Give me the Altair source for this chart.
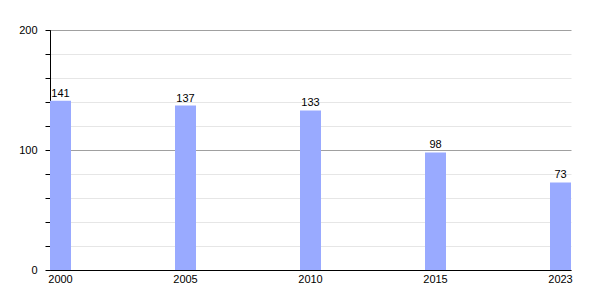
import altair as alt
import pandas as pd

years = ["2000", "2005", "2010", "2015", "2023"]
values = [141, 137, 133, 98, 73]
minor_ticks = [20, 40, 60, 80, 120, 140, 160, 180]
major_ticks = [0, 100, 200]

df = pd.DataFrame({"year": years, "value": values})

FONT = "Liberation Sans"

xenc = alt.X(
    "year:N",
    sort=years,
    scale=alt.Scale(paddingInner=0.832, paddingOuter=0),
    axis=alt.Axis(
        title=None, labelAngle=0, tickSize=0, domainColor="black",
        labelPadding=3, labelFontSize=11, labelColor="black", labelFont=FONT,
        grid=False,
    ),
)

yscale = alt.Scale(domain=[0, 200], nice=False)

bars = alt.Chart(df).mark_bar(color="#99aaff").encode(
    x=xenc,
    y=alt.Y(
        "value:Q",
        scale=yscale,
        axis=alt.Axis(
            values=minor_ticks, labels=False, tickSize=5, grid=True,
            tickColor="black", gridColor="#e6e6e6", domainColor="black",
            title=None, orient="left",
        ),
    ),
)

text = alt.Chart(df).mark_text(
    baseline="bottom", dy=-2, fontSize=11, font=FONT, color="black"
).encode(
    x=alt.X("year:N", sort=years),
    y=alt.Y(
        "value:Q",
        scale=yscale,
        axis=alt.Axis(
            values=major_ticks, tickSize=5, tickColor="black", grid=True,
            gridColor="#a0a0a0", gridOpacity=1, domainColor="black",
            labelPadding=8, labelFontSize=11, labelColor="black",
            labelFont=FONT, title=None, orient="left",
        ),
    ),
    text="value:Q",
)

chart = (
    alt.layer(bars, text)
    .resolve_axis(y="independent")
    .properties(
        width=521,
        height=240,
        autosize=alt.AutoSizeParams(type="none"),
        padding={"left": 50, "top": 30, "right": 29, "bottom": 30},
    )
    .configure_view(stroke=None)
)

chart.save("out.html", embed_options={"renderer": "svg", "actions": False})
